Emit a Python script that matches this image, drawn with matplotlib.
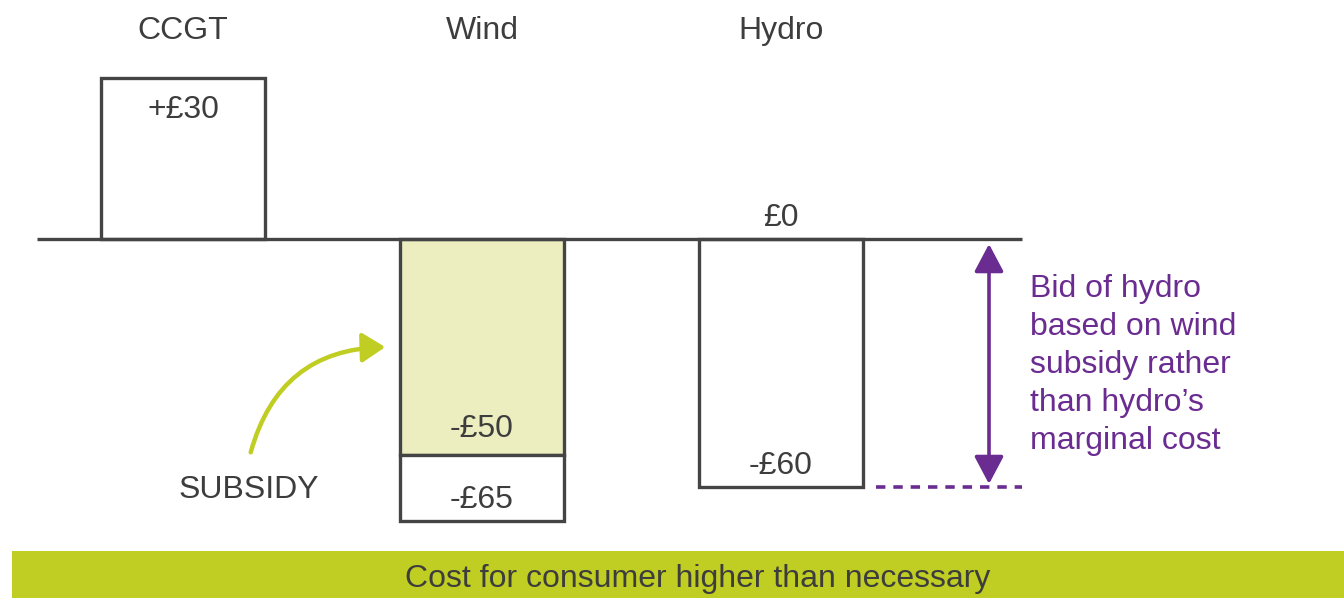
import matplotlib
matplotlib.use("Agg")
import matplotlib.pyplot as plt
from matplotlib.patches import Rectangle, FancyArrowPatch

plt.rcParams['font.family'] = ['Liberation Sans', 'DejaVu Sans']

# ---- data ----
categories = ["CCGT", "Wind", "Hydro"]
value_labels = ["+£30", "-£50", "-£65", "£0", "-£60"]
# drawn extents of the schematic bars (chart units)
ccgt_top = 37.3
wind_subsidy = -50.0
wind_total = -65.2
hydro_bottom = -57.4
subsidy_label = "SUBSIDY"
note_text = "Bid of hydro\nbased on wind\nsubsidy rather\nthan hydro’s\nmarginal cost"
banner_text = "Cost for consumer higher than necessary"

# ---- style ----
DARK = "#444444"
TXT = "#3d3d3d"
GREEN = "#c0cd22"
LIGHT = "#eceebf"
PURPLE = "#6a2c91"

W, H = 1344, 598
fig = plt.figure(figsize=(W / 100, H / 100), dpi=100)
ax = fig.add_axes([0, 0, 1, 1])
step = 299.0          # px per category
x0 = 183.0            # px of first category
ypx = 4.32            # px per unit
y0 = 239.0            # px of zero line
ax.set_xlim(-x0 / step, (W - x0) / step)
ax.set_ylim(-(H - y0) / ypx, y0 / ypx)
ax.axis("off")

bw = 164 / step
lw = 2.4

# bars
ax.bar(0, ccgt_top, width=bw, color="white", edgecolor=DARK, linewidth=lw, zorder=2)
ax.bar(1, wind_subsidy, width=bw, color=LIGHT, edgecolor=DARK, linewidth=lw, zorder=2)
ax.bar(1, wind_total - wind_subsidy, bottom=wind_subsidy, width=bw, color="white",
       edgecolor=DARK, linewidth=lw, zorder=2)
ax.bar(2, hydro_bottom, width=bw, color="white", edgecolor=DARK, linewidth=lw, zorder=2)

# zero line
ax.plot([-146 / step, 839 / step], [0, 0], color=DARK, lw=lw, zorder=3,
        solid_capstyle="butt")

def py(p):
    return -(p - y0) / ypx

def px(p):
    return (p - x0) / step

fs = 23
kw = dict(ha="center", va="baseline", fontsize=fs, color=TXT)
# category labels
for i, c in enumerate(categories):
    ax.text(i, py(39), c, **kw)

ax.text(0, py(118), value_labels[0], **kw)
ax.text(1, py(437), value_labels[1], **kw)
ax.text(1, py(508), value_labels[2], **kw)
ax.text(2, py(226), value_labels[3], **kw)
ax.text(2, py(474), value_labels[4], **kw)
ax.text(px(249), py(498), subsidy_label, **kw)

# subsidy arrow
arr = FancyArrowPatch((px(250), py(455)), (px(388), py(347)),
                      connectionstyle="arc3,rad=-0.38",
                      arrowstyle="-|>,head_length=0.7,head_width=0.45",
                      mutation_scale=20, color=GREEN, lw=3.2, zorder=4)
ax.add_patch(arr)

# purple double arrow
arr2 = FancyArrowPatch((px(989), py(244)), (px(989), py(484)),
                       arrowstyle="<|-|>,head_length=0.85,head_width=0.45",
                       mutation_scale=20, color=PURPLE, lw=2.6, zorder=4,
                       shrinkA=0, shrinkB=0)
ax.add_patch(arr2)
ax.plot([px(876), px(1022)], [hydro_bottom, hydro_bottom], color=PURPLE, lw=2.6,
        dashes=(2.6, 2.2), zorder=3)

ax.text(px(1030), py(449), note_text, ha="left", va="baseline", fontsize=fs,
        color=PURPLE, linespacing=1.35)

# banner
ax.add_patch(Rectangle((px(12), py(598)), px(1344) - px(12), py(551) - py(598),
                       facecolor=GREEN, edgecolor="none", zorder=1))
ax.text(px(698), py(587), banner_text, **kw)

fig.savefig("out.png", dpi=100)
